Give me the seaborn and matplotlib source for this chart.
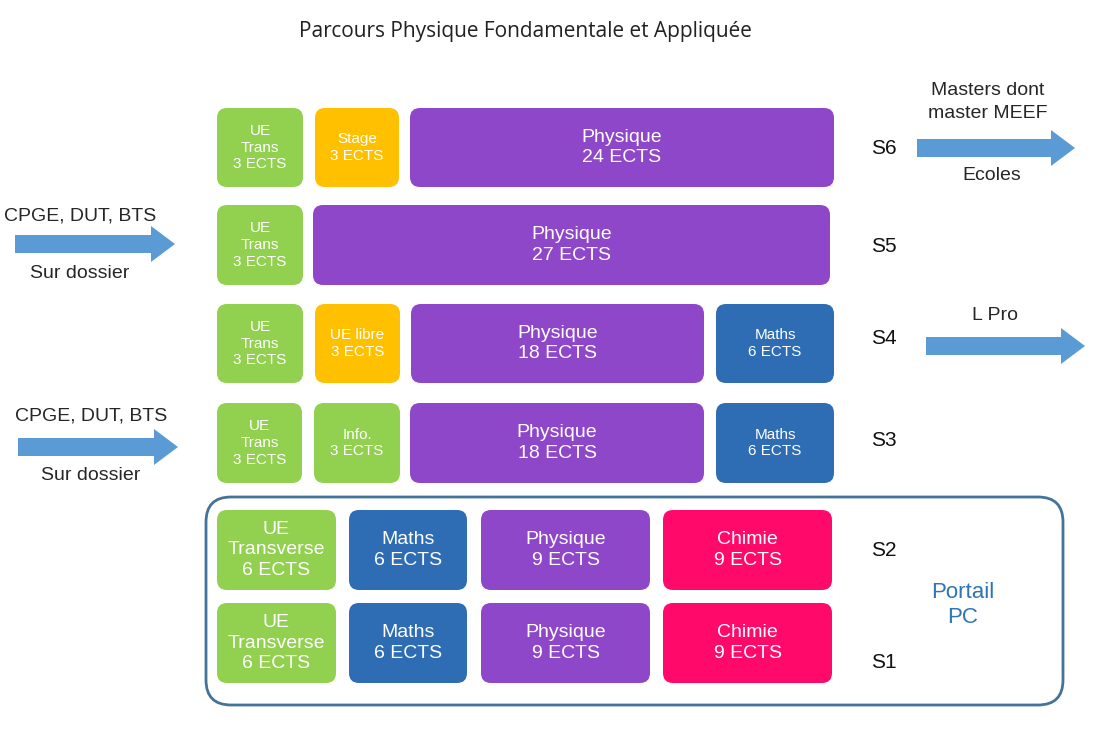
import matplotlib
matplotlib.use("Agg")
import matplotlib.pyplot as plt
from matplotlib.patches import FancyBboxPatch, FancyArrow
import seaborn as sns

sns.set_theme(style="white")
plt.rcParams["font.family"] = ["Liberation Sans Narrow", "Liberation Sans", "DejaVu Sans"]

# semesters and their course blocks (label, ects, kind)
semesters = ["S6", "S5", "S4", "S3", "S2", "S1"]
s6_blocks = [("UE\nTrans", 3, "trans"), ("Stage", 3, "opt"), ("Physique", 24, "phys")]
s5_blocks = [("UE\nTrans", 3, "trans"), ("Physique", 27, "phys")]
s4_blocks = [("UE\nTrans", 3, "trans"), ("UE libre", 3, "opt"), ("Physique", 18, "phys"), ("Maths", 6, "math")]
s3_blocks = [("UE\nTrans", 3, "trans"), ("Info.", 3, "trans"), ("Physique", 18, "phys"), ("Maths", 6, "math")]
s2_blocks = [("UE\nTransverse", 6, "trans"), ("Maths", 6, "math"), ("Physique", 9, "phys"), ("Chimie", 9, "chem")]
s1_blocks = [("UE\nTransverse", 6, "trans"), ("Maths", 6, "math"), ("Physique", 9, "phys"), ("Chimie", 9, "chem")]
blocks = [s6_blocks, s5_blocks, s4_blocks, s3_blocks, s2_blocks, s1_blocks]

colors = {"trans": "#92d050", "opt": "#ffc000", "phys": "#8f47c9",
          "math": "#2e6db4", "chem": "#ff0a6a"}
arrow_color = "#5b9bd5"

# layout (pixels): row top/bottom, box x extents per row
row_y = [(108, 187), (205, 285), (304, 383), (403, 483), (510, 590), (603, 683)]
row_x = [
    [(217, 303), (315, 399), (410, 834)],
    [(217, 303), (313, 830)],
    [(217, 303), (315, 400), (411, 704), (716, 834)],
    [(217, 302), (314, 400), (410, 704), (716, 834)],
    [(217, 336), (349, 467), (481, 650), (663, 832)],
    [(217, 336), (349, 467), (481, 650), (663, 832)],
]
label_y = [148, 247, 338, 440, 550, 662]

fig = plt.figure(figsize=(11.03, 7.40), dpi=100)
ax = fig.add_axes([0, 0, 1, 1])
ax.set_xlim(0, 1103)
ax.set_ylim(740, 0)
ax.axis("off")

ax.text(525, 31, "Parcours Physique Fondamentale et Appliquée", ha="center", va="center",
        fontsize=15, family="Open Sans", color="#222222")

# portail box
ax.add_patch(FancyBboxPatch((206, 497), 857, 208, boxstyle="round,pad=0,rounding_size=25",
                            fc="white", ec="#44739a", lw=2))

for i, sem in enumerate(semesters):
    y0, y1 = row_y[i]
    for (label, ects, kind), (x0, x1) in zip(blocks[i], row_x[i]):
        ax.add_patch(FancyBboxPatch((x0, y0), x1 - x0, y1 - y0,
                                    boxstyle="round,pad=0,rounding_size=10",
                                    fc=colors[kind], ec="none"))
        big = kind == "phys" and i < 4 or i >= 4
        fs = 14 if big else 11
        if kind == "phys" and i < 4:
            fs = 14
        elif i < 4:
            fs = 11
        ax.text((x0 + x1) / 2, (y0 + y1) / 2, f"{label}\n{ects} ECTS", ha="center",
                va="center", color="white", fontsize=fs, linespacing=1.25)
    ax.text(884, label_y[i], sem, ha="center", va="center", fontsize=15, color="#111111")

ax.text(963, 605, "Portail\nPC", ha="center", va="center", fontsize=16, color="#2e75b6",
        linespacing=1.3)

def arrow(x0, x1, y):
    ax.add_patch(FancyArrow(x0, y, x1 - x0, 0, width=18, head_width=36, head_length=24,
                            length_includes_head=True, fc=arrow_color, ec="none"))

arrow(15, 175, 244)
ax.text(80, 216, "CPGE, DUT, BTS", ha="center", va="center", fontsize=14)
ax.text(80, 274, "Sur dossier", ha="center", va="center", fontsize=14)
arrow(18, 178, 447)
ax.text(91, 416, "CPGE, DUT, BTS", ha="center", va="center", fontsize=14)
ax.text(91, 475, "Sur dossier", ha="center", va="center", fontsize=14)
arrow(917, 1075, 148)
ax.text(988, 102, "Masters dont\nmaster MEEF", ha="center", va="center", fontsize=14,
        linespacing=1.4)
ax.text(992, 176, "Ecoles", ha="center", va="center", fontsize=14)
arrow(926, 1085, 346)
ax.text(995, 315, "L Pro", ha="center", va="center", fontsize=14)

fig.savefig("out.png", dpi=100, facecolor="white")
